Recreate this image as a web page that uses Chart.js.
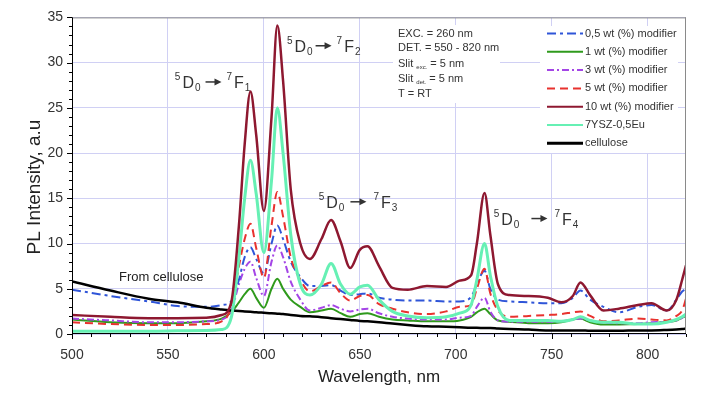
<!DOCTYPE html>
<html>
<head>
<meta charset="utf-8">
<script src="https://cdn.jsdelivr.net/npm/chart.js@4.4.1/dist/chart.umd.min.js"></script>
<style>
  body { margin: 0; background: #fff; }
  #pl_chart { display: block; }
</style>
</head>
<body>
<canvas id="pl_chart" width="706" height="396"></canvas>
<script>
// wavelength grid (nm) shared by every spectrum
const wavelengths = [500, 520, 540, 555, 570, 578, 583, 587, 590, 593, 596, 600, 604, 607, 610, 614, 619, 624, 630, 635,
  640, 645, 650, 654, 660, 667, 675, 685, 695, 702, 708, 711, 715, 718, 722, 728, 738, 748, 755, 761,
  765, 770, 777, 785, 795, 802, 810, 815, 818, 820];

const wt05 = [4.9, 4.2, 3.6, 3.1, 3.0, 3.2, 3.6, 6.0, 8.5, 9.6, 8.3, 6.7, 10.0, 12.0, 10.5, 8.0, 6.3, 5.3, 5.3, 5.4,
  4.8, 4.3, 4.4, 4.5, 4.0, 3.8, 3.7, 3.7, 3.6, 3.6, 4.1, 5.5, 7.0, 5.0, 3.8, 3.6, 3.5, 3.4, 3.4, 4.0,
  4.8, 3.8, 3.0, 2.4, 3.0, 3.2, 2.6, 3.8, 4.7, 5.0];
const wt1 = [1.6, 1.3, 1.2, 1.2, 1.4, 1.7, 2.4, 3.5, 4.4, 5.0, 4.0, 2.9, 5.0, 6.1, 5.0, 3.8, 3.0, 2.4, 2.6, 2.8,
  2.3, 1.9, 2.2, 2.3, 1.9, 1.6, 1.5, 1.4, 1.4, 1.5, 1.9, 2.4, 2.8, 2.2, 1.5, 1.35, 1.2, 1.2, 1.3, 1.6,
  1.7, 1.3, 1.05, 1.05, 1.1, 1.2, 1.35, 1.5, 1.8, 2.0];
const wt3 = [1.7, 1.5, 1.3, 1.3, 1.4, 1.6, 2.6, 5.5, 7.2, 8.0, 6.2, 4.2, 8.0, 9.8, 8.5, 5.8, 3.8, 2.6, 2.9, 3.2,
  2.8, 2.5, 2.7, 2.8, 2.3, 1.9, 1.7, 1.6, 1.6, 1.8, 2.0, 3.0, 4.0, 2.5, 1.5, 1.35, 1.35, 1.35, 1.4, 1.6,
  1.7, 1.5, 1.25, 1.2, 1.2, 1.3, 1.35, 1.5, 1.8, 2.2];
const wt5 = [1.3, 1.1, 1.0, 1.0, 1.1, 1.4, 3.0, 7.5, 10.5, 12.2, 9.5, 6.2, 12.0, 15.7, 13.0, 8.5, 6.0, 4.7, 5.3, 5.7,
  4.5, 3.7, 4.2, 4.3, 3.3, 2.8, 2.4, 2.2, 2.5, 3.0, 3.2, 5.0, 7.2, 4.5, 2.6, 1.9, 2.0, 2.1, 2.2, 2.4,
  2.5, 2.0, 1.4, 1.5, 1.7, 1.6, 1.5, 2.0, 2.6, 3.9];
const wt10 = [2.1, 1.9, 1.75, 1.75, 1.8, 2.1, 3.5, 12.0, 21.0, 26.8, 22.0, 13.6, 24.0, 34.1, 28.0, 16.0, 10.0, 8.3, 10.5, 12.6,
  10.2, 7.3, 9.3, 9.7, 7.5, 5.1, 4.9, 5.3, 5.2, 5.9, 6.5, 10.0, 15.6, 11.0, 5.5, 4.3, 4.2, 4.0, 3.5, 4.2,
  5.7, 4.3, 2.6, 2.8, 3.2, 3.4, 2.6, 3.8, 6.0, 7.6];
const ysz = [0.3, 0.3, 0.3, 0.35, 0.4, 0.5, 1.8, 8.5, 15.0, 19.2, 15.5, 9.0, 17.0, 25.0, 20.0, 11.0, 5.5, 4.3, 5.5, 7.8,
  5.5, 4.4, 5.2, 5.4, 3.8, 2.5, 2.0, 1.8, 1.9, 2.3, 3.2, 6.0, 10.0, 6.5, 3.0, 1.5, 1.5, 1.5, 1.4, 1.6,
  1.9, 1.5, 1.3, 1.3, 1.1, 1.1, 1.3, 1.6, 1.9, 2.2];
const cellulose = [5.8, 4.8, 3.9, 3.5, 2.9, 2.7, 2.6, 2.55, 2.5, 2.45, 2.4, 2.35, 2.3, 2.25, 2.2, 2.1, 2.0, 1.95, 1.85, 1.75,
  1.65, 1.55, 1.45, 1.4, 1.3, 1.15, 1.0, 0.85, 0.8, 0.75, 0.7, 0.7, 0.65, 0.65, 0.6, 0.55, 0.5, 0.4, 0.4, 0.4,
  0.4, 0.35, 0.35, 0.35, 0.4, 0.4, 0.45, 0.5, 0.55, 0.6];

const seriesNames = ["0,5 wt (%) modifier", "1 wt (%) modifier", "3 wt (%) modifier", "5 wt (%) modifier",
  "10 wt (%) modifier", "7YSZ-0,5Eu", "cellulose"];

const FONT = '"Liberation Sans", Arial, sans-serif';

function toPoints(values) {
  return wavelengths.map((w, i) => ({ x: w, y: values[i] }));
}

function line(c, x1, y1, x2, y2) {
  c.beginPath();
  c.moveTo(x1, y1);
  c.lineTo(x2, y2);
  c.stroke();
}

// 5D0 -> 7Fn label with super/subscripts
function drawTransition(c, x, y, n, gapBefore, gapAfter) {
  c.fillStyle = "#333";
  c.strokeStyle = "#333";
  c.textAlign = "left";
  c.textBaseline = "alphabetic";
  c.font = "10px " + FONT;
  c.fillText("5", x, y - 8);
  x += c.measureText("5").width + 2;
  c.font = "16px " + FONT;
  c.fillText("D", x, y);
  x += c.measureText("D").width + 1;
  c.font = "10px " + FONT;
  c.fillText("0", x, y + 3);
  x += c.measureText("0").width + gapBefore;
  c.lineWidth = 1.5;
  line(c, x, y - 6, x + 11, y - 6);
  c.beginPath();
  c.moveTo(x + 16, y - 6);
  c.lineTo(x + 9, y - 9.5);
  c.lineTo(x + 9, y - 2.5);
  c.closePath();
  c.fill();
  x += 16 + gapAfter;
  c.font = "10px " + FONT;
  c.fillText("7", x, y - 8);
  x += c.measureText("7").width + 2;
  c.font = "16px " + FONT;
  c.fillText("F", x, y);
  x += c.measureText("F").width + 1;
  c.font = "10px " + FONT;
  c.fillText(String(n), x, y + 3);
}

const decorations = {
  id: "decorations",
  beforeDatasetsDraw(chart) {
    const c = chart.ctx;
    // white panels behind the info text and the legend
    c.save();
    c.fillStyle = "#fff";
    c.fillRect(393, 25, 107, 78);
    c.fillRect(540, 26, 138, 127);
    c.restore();
  },
  afterDraw(chart) {
    const c = chart.ctx;
    const xs = chart.scales.x;
    const ys = chart.scales.y;
    const area = chart.chartArea;
    c.save();

    // frame
    c.lineWidth = 1;
    c.strokeStyle = "#8a8a8a";
    line(c, area.left, area.top + 0.5, area.right, area.top + 0.5);
    line(c, area.right - 0.5, area.top, area.right - 0.5, area.bottom);
    c.strokeStyle = "#000";
    line(c, area.left + 0.5, area.top, area.left + 0.5, area.bottom);
    line(c, area.left, area.bottom - 0.5, area.right, area.bottom - 0.5);

    // major + minor ticks
    for (let w = 500; w <= 820; w += 10) {
      const px = Math.round(xs.getPixelForValue(w)) + 0.5;
      line(c, px, area.bottom, px, area.bottom + (w % 50 === 0 ? 5 : 3));
    }
    for (let v = 0; v <= 35; v += 1) {
      const py = Math.round(ys.getPixelForValue(v)) + 0.5;
      line(c, area.left - (v % 5 === 0 ? 5 : 3), py, area.left, py);
    }

    // axis titles
    c.fillStyle = "#222";
    c.textAlign = "center";
    c.textBaseline = "middle";
    c.font = "17px " + FONT;
    c.fillText("Wavelength, nm", (area.left + area.right) / 2, 377);
    c.save();
    c.translate(35, 187);
    c.rotate(-Math.PI / 2);
    c.font = "19px " + FONT;
    c.fillText("PL Intensity, a.u", 0, 0);
    c.restore();

    // transition labels
    drawTransition(c, xs.getPixelForValue(553.6), ys.getPixelForValue(27.2), 1, 5, 5);
    drawTransition(c, xs.getPixelForValue(612), ys.getPixelForValue(31.2), 2, 3, 5);
    drawTransition(c, xs.getPixelForValue(628.6), ys.getPixelForValue(13.95), 3, 6, 7);
    drawTransition(c, xs.getPixelForValue(719.8), ys.getPixelForValue(12.1), 4, 12, 7);

    c.fillStyle = "#222";
    c.textAlign = "left";
    c.textBaseline = "middle";
    c.font = "13px " + FONT;
    c.fillText("From cellulose", xs.getPixelForValue(524.5), ys.getPixelForValue(6.2));

    // measurement conditions
    c.fillStyle = "#333";
    c.textBaseline = "alphabetic";
    c.font = "11px " + FONT;
    c.fillText("EXC. = 260 nm", 398, 37);
    c.fillText("DET. = 550 - 820 nm", 398, 50.5);
    const slit = [["exc.", 66.5], ["det.", 82]];
    slit.forEach(([sub, y]) => {
      c.font = "11px " + FONT;
      c.fillText("Slit", 398, y);
      let x = 398 + c.measureText("Slit ").width;
      c.font = "6px " + FONT;
      c.fillText(sub, x, y + 2);
      x += c.measureText(sub).width + 3;
      c.font = "11px " + FONT;
      c.fillText("= 5 nm", x, y);
    });
    c.fillText("T = RT", 398, 97);

    // legend
    chart.data.datasets.forEach((ds, i) => {
      const y = 33.5 + i * 18.3;
      c.strokeStyle = ds.borderColor;
      c.lineWidth = ds.label === "cellulose" ? 3 : 2;
      c.setLineDash(ds.borderDash || []);
      line(c, 547, y, 583, y);
      c.setLineDash([]);
      c.fillStyle = "#333";
      c.textBaseline = "middle";
      c.font = "11px " + FONT;
      c.fillText(ds.label, 585, y);
    });
    c.restore();
  }
};

const ctx = document.getElementById("pl_chart");

new Chart(ctx, {
  type: "line",
  data: {
    datasets: [
      { label: seriesNames[0], data: toPoints(wt05), borderColor: "#2f55d8", borderWidth: 2, borderDash: [9, 4, 3, 4], order: 4 },
      { label: seriesNames[1], data: toPoints(wt1), borderColor: "#2f9a1c", borderWidth: 2, order: 6 },
      { label: seriesNames[2], data: toPoints(wt3), borderColor: "#a445e6", borderWidth: 2, borderDash: [7, 3, 2, 3], order: 5 },
      { label: seriesNames[3], data: toPoints(wt5), borderColor: "#e8322e", borderWidth: 2, borderDash: [8, 5], order: 3 },
      { label: seriesNames[4], data: toPoints(wt10), borderColor: "#8e1830", borderWidth: 2.5, order: 0 },
      { label: seriesNames[5], data: toPoints(ysz), borderColor: "#66f0b4", borderWidth: 3, order: 1 },
      { label: seriesNames[6], data: toPoints(cellulose), borderColor: "#000", borderWidth: 2.5, order: 2 },
    ],
  },
  options: {
    responsive: false,
    animation: false,
    devicePixelRatio: 1,
    layout: { padding: { top: 17, right: 20, left: 0, bottom: 0 } },
    elements: {
      point: { radius: 0 },
      line: { cubicInterpolationMode: "monotone", fill: false },
    },
    plugins: {
      legend: { display: false },
      tooltip: { enabled: false },
    },
    scales: {
      x: {
        type: "linear",
        min: 500,
        max: 820,
        afterFit: (s) => { s.height = 62; },
        afterBuildTicks: (s) => { s.ticks = s.ticks.filter((t) => t.value % 50 === 0); },
        grid: { color: "#d0d0f4", drawTicks: false },
        border: { display: false },
        ticks: { stepSize: 50, padding: 13, color: "#333", font: { family: FONT, size: 14 }, maxRotation: 0 },
      },
      y: {
        min: 0,
        max: 35,
        afterFit: (s) => { s.width = 72; },
        grid: { color: "#d0d0f4", drawTicks: false },
        border: { display: false },
        ticks: { stepSize: 5, padding: 9, color: "#333", font: { family: FONT, size: 14 } },
      },
    },
  },
  plugins: [decorations],
});
</script>
</body>
</html>
